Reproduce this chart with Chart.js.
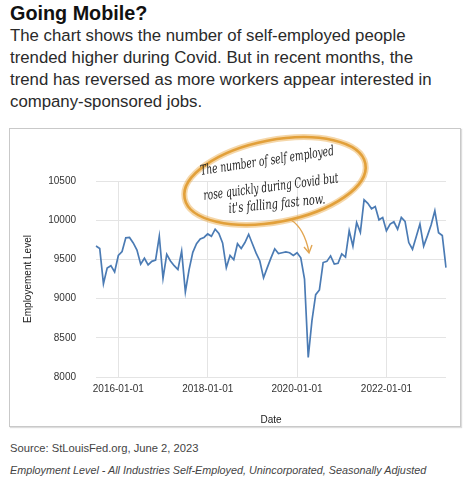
<!DOCTYPE html>
<html>
<head>
<meta charset="utf-8">
<script src="https://cdn.jsdelivr.net/npm/chart.js@4.4.0/dist/chart.umd.min.js"></script>
<style>
  html, body { margin: 0; padding: 0; background: #fff; }
  body { width: 468px; height: 486px; position: relative; overflow: hidden; font-family: "Liberation Sans", Arial, sans-serif; }
  .abs { position: absolute; white-space: nowrap; }
  #title { left: 10px; top: 2px; font-size: 19.8px; line-height: 22px; font-weight: bold; color: #111; }
  #sub { left: 10px; top: 25px; font-size: 16.8px; line-height: 22px; color: #2a2a2a; }
  #box { left: 9px; top: 128px; width: 450px; height: 297px; border: 1px solid #c9c9c9; box-shadow: 1px 1px 1px #ddd; }
  #src { left: 10px; top: 442px; font-size: 11.2px; color: #444; }
  #note { left: 10px; top: 464px; font-size: 10.8px; font-style: italic; color: #444; }
</style>
</head>
<body>
<div id="title" class="abs">Going Mobile?</div>
<div id="sub" class="abs">The chart shows the number of self-employed people<br>trended higher during Covid. But in recent months, the<br>trend has reversed as more workers appear interested in<br>company-sponsored jobs.</div>
<div id="box" class="abs"><canvas id="chart" width="450" height="297"></canvas></div>
<div id="src" class="abs">Source: StLouisFed.org, June 2, 2023</div>
<div id="note" class="abs">Employment Level - All Industries Self-Employed, Unincorporated, Seasonally Adjusted</div>

<script>
// monthly, 2015-07 .. 2023-05 (thousands)
var firstMonth = [2015, 7];
var levels = [
  9670, 9640, 9190, 9390, 9420, 9340,            // 2015 H2
  9550, 9600, 9775, 9780, 9710, 9620, 9440, 9515, 9430, 9475, 9490, 9795,   // 2016
  9260, 9565, 9480, 9420, 9370, 9605, 9085, 9370, 9590, 9700, 9760, 9780,   // 2017
  9825, 9795, 9885, 9830, 9710, 9395, 9550, 9495, 9700, 9640, 9715, 9820,   // 2018
  9700, 9580, 9480, 9265, 9395, 9520, 9635, 9575, 9585, 9595, 9585, 9550,   // 2019
  9585, 9520, 9250, 8250, 8720, 9050, 9110, 9460, 9475, 9545, 9440, 9450,   // 2020
  9570, 9530, 9865, 9670, 9970, 9845, 10260, 10215, 10145, 10175, 10005, 10035, // 2021
  9865, 9950, 9980, 9885, 10035, 9985, 9715, 9630, 9790, 9950, 9670, 9800,  // 2022
  9940, 10120, 9840, 9805, 9395                                             // 2023
];
var xTickLabels = ['2016-01-01', '2018-01-01', '2020-01-01', '2022-01-01'];
var yTicks = [8000, 8500, 9000, 9500, 10000, 10500];

var dates = [];
for (var i = 0; i < levels.length; i++) {
  var m = firstMonth[1] - 1 + i;
  var y = firstMonth[0] + Math.floor(m / 12);
  var mm = (m % 12) + 1;
  dates.push(y + '-' + (mm < 10 ? '0' + mm : mm) + '-01');
}

var annotation = {
  id: 'annotation',
  afterDatasetsDraw: function(chart) {
    var ctx = chart.ctx;
    ctx.save();
    // ellipse
    ctx.strokeStyle = 'rgba(232,166,64,0.45)';
    ctx.lineWidth = 6;
    ctx.beginPath();
    ctx.ellipse(265, 52, 92, 41, -0.19, 0, Math.PI * 2);
    ctx.stroke();
    ctx.strokeStyle = '#e2a03a';
    ctx.lineWidth = 2.6;
    ctx.beginPath();
    ctx.ellipse(265, 52, 92, 41, -0.19, 0, Math.PI * 2);
    ctx.stroke();

    // arrow
    ctx.strokeStyle = '#e2a550';
    ctx.lineWidth = 1.4;
    ctx.beginPath();
    ctx.moveTo(281, 91);
    ctx.quadraticCurveTo(294, 99, 299, 123);
    ctx.stroke();
    ctx.beginPath();
    ctx.moveTo(294, 118);
    ctx.lineTo(299, 124);
    ctx.lineTo(302, 116);
    ctx.stroke();

    // handwritten note
    var lines = [
      ['The number of self employed', 191, 46, -0.15, 135],
      ['rose quickly during Covid but', 194, 71, -0.13, 136],
      ["it's falling fast now.", 219, 84, -0.10, 97]
    ];
    ctx.fillStyle = '#222';
    ctx.font = 'italic 12px "DejaVu Serif", serif';
    ctx.textBaseline = 'alphabetic';
    lines.forEach(function(l) {
      var w = ctx.measureText(l[0]).width;
      ctx.save();
      ctx.translate(l[1], l[2]);
      ctx.rotate(l[3]);
      ctx.scale(l[4] / w, 1.15);
      ctx.fillText(l[0], 0, 0);
      ctx.restore();
    });
    ctx.restore();
  }
};

new Chart(document.getElementById('chart').getContext('2d'), {
  type: 'line',
  data: {
    labels: dates,
    datasets: [{
      label: 'Employment Level',
      data: levels,
      borderColor: '#4b7bb4',
      borderWidth: 1.7,
      pointRadius: 0,
      tension: 0,
      fill: false
    }]
  },
  options: {
    responsive: false,
    animation: false,
    layout: { padding: { left: 0, top: 52, right: 14, bottom: 0 } },
    plugins: { legend: { display: false }, tooltip: { enabled: false } },
    scales: {
      x: {
        type: 'category',
        offset: false,
        border: { display: false },
        grid: {
          drawTicks: false,
          lineWidth: 1,
          color: function(c) {
            return xTickLabels.indexOf(dates[c.index]) >= 0 ? '#e4e4e4' : 'rgba(0,0,0,0)';
          }
        },
        ticks: {
          autoSkip: false,
          maxRotation: 0,
          padding: 6,
          color: '#333',
          font: { family: 'Liberation Sans', size: 10 },
          callback: function(v, i) {
            return xTickLabels.indexOf(dates[i]) >= 0 ? dates[i] : '';
          }
        },
        title: {
          display: true,
          text: 'Date',
          color: '#222',
          font: { family: 'Liberation Sans', size: 10 },
          padding: { top: 10, bottom: 0 }
        },
        afterFit: function(scale) { scale.height = 49; }
      },
      y: {
        min: yTicks[0],
        max: yTicks[yTicks.length - 1],
        border: { display: false },
        grid: { drawTicks: false, color: '#e4e4e4', lineWidth: 1 },
        afterBuildTicks: function(scale) {
          scale.ticks = yTicks.map(function(v) { return { value: v }; });
        },
        ticks: {
          padding: 20,
          color: '#333',
          font: { family: 'Liberation Sans', size: 10 },
          callback: function(v) { return String(v); }
        },
        title: {
          display: true,
          text: 'Employement Level',
          color: '#222',
          font: { family: 'Liberation Sans', size: 10 },
          padding: { top: 12, bottom: 0 }
        },
        afterFit: function(scale) { scale.width = 86; }
      }
    }
  },
  plugins: [annotation]
});
</script>
</body>
</html>
